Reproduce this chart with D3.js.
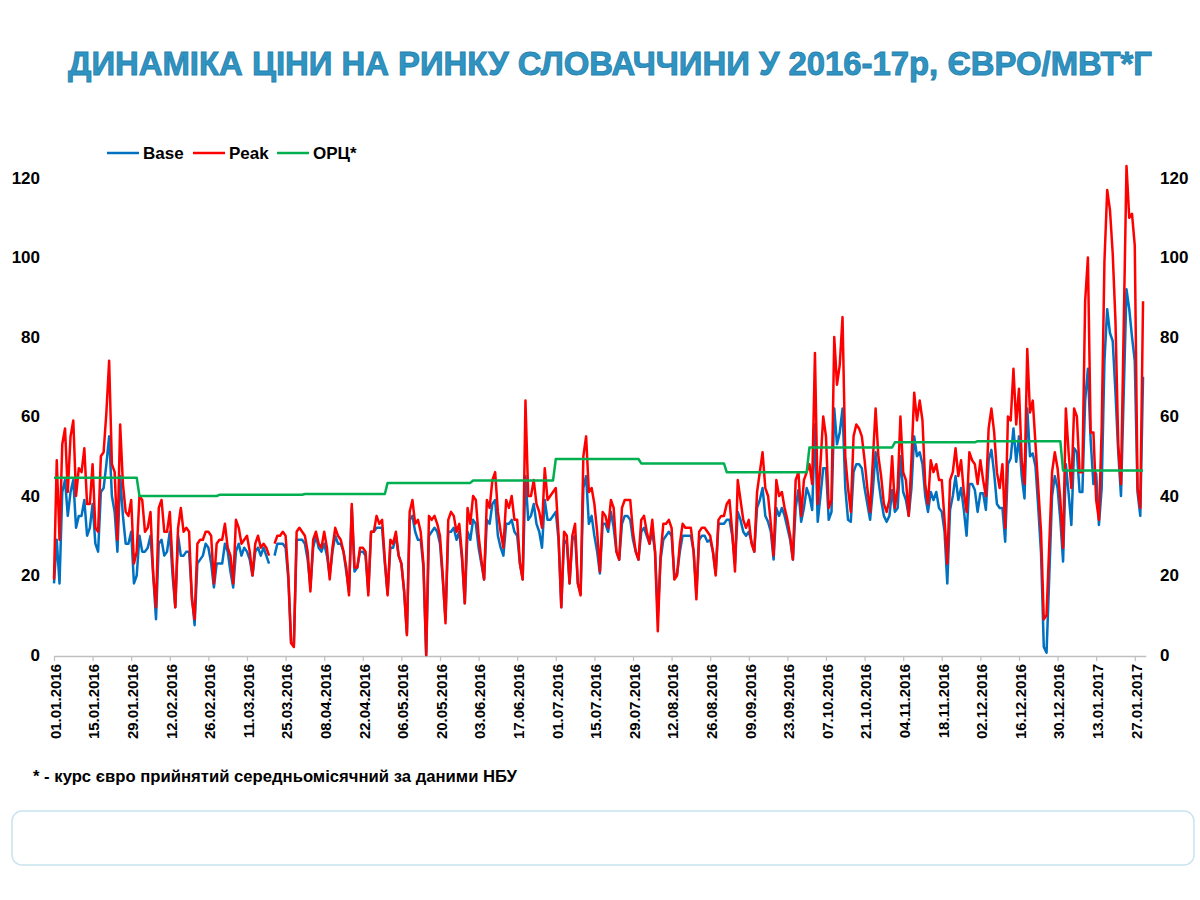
<!DOCTYPE html>
<html>
<head>
<meta charset="utf-8">
<script src="https://cdn.jsdelivr.net/npm/d3@7/dist/d3.min.js"></script>
<style>
body { margin: 0; background: #fff; }
svg text { font-family: "Liberation Sans", Arial, sans-serif; }
</style>
</head>
<body>
<div id="chart"></div>
<script>
//Width and height
var w = 1200;
var h = 900;

//Daily series start on this date, one value per day
var startDate = "01.01.2016";
var endDate = "31.01.2017";

//Date axis labels (every 14 days)
var tickLabels = ["01.01.2016","15.01.2016","29.01.2016","12.02.2016","26.02.2016","11.03.2016",
  "25.03.2016","08.04.2016","22.04.2016","06.05.2016","20.05.2016","03.06.2016","17.06.2016",
  "01.07.2016","15.07.2016","29.07.2016","12.08.2016","26.08.2016","09.09.2016","23.09.2016",
  "07.10.2016","21.10.2016","04.11.2016","18.11.2016","02.12.2016","16.12.2016","30.12.2016",
  "13.01.2017","27.01.2017"];

var yTicks = [0, 20, 40, 60, 80, 100, 120];

//Peak, EUR/MWh per day
var peak = [
  19, 49, 29, 53, 57, 41, 55, 59, 40, 47,
  46, 52, 38, 38, 48, 32, 31, 50, 51, 61,
  74, 48, 46, 29, 58, 43, 36, 35, 39, 23,
  26, 40, 39, 31, 32, 36, 20, 12, 37, 39,
  31, 31, 36, 23, 12, 32, 37, 31, 32, 31,
  14, 9, 28, 29, 29, 31, 31, 30, 18, 28,
  29, 29, 33, 27, 25, 18, 34, 32, 28, 29,
  30, 26, 20, 28, 30, 27, 28, 27, 25, null,
  28, 30, 30, 31, 30, 20, 3, 2, 31, 32,
  31, 30, 26, 16, 29, 31, 28, 27, 31, 27,
  19, 27, 32, 30, 29, 26, 22, 15, 38, 22,
  22, 27, 27, 26, 15, 31, 31, 35, 33, 34,
  24, 15, 29, 28, 31, 25, 23, 16, 5, 36,
  39, 33, 34, 31, 23, 0, 35, 34, 35, 33,
  30, 20, 8, 34, 36, 35, 31, 33, 25, 13,
  37, 33, 40, 39, 30, 24, 19, 39, 37, 44,
  46, 36, 31, 27, 39, 37, 40, 34, 34, 23,
  19, 64, 40, 40, 44, 38, 36, 32, 47, 39,
  40, 41, 42, 30, 12, 31, 30, 18, 30, 33,
  18, 15, 50, 55, 41, 42, 38, 31, 21, 36,
  35, 32, 39, 37, 26, 24, 37, 39, 39, 39,
  31, 26, 24, 34, 35, 31, 28, 34, 26, 6,
  25, 33, 33, 34, 32, 19, 20, 28, 33, 32,
  32, 32, 26, 14, 31, 32, 32, 31, 30, 26,
  20, 34, 35, 35, 38, 39, 31, 21, 44, 39,
  34, 32, 34, 28, 26, 41, 46, 51, 42, 40,
  33, 25, 44, 40, 41, 37, 34, 30, 24, 44,
  46, 35, 44, 46, 48, 43, 76, 38, 48, 60,
  55, 37, 39, 80, 68, 73, 85, 50, 42, 36,
  55, 58, 57, 55, 49, 42, 36, 49, 62, 50,
  45, 38, 36, 39, 50, 37, 42, 60, 46, 44,
  35, 49, 66, 59, 64, 59, 43, 38, 49, 46,
  48, 44, 44, 34, 23, 44, 46, 52, 45, 49,
  41, 36, 51, 49, 48, 43, 49, 44, 40, 57,
  62, 56, 46, 42, 48, 32, 60, 59, 72, 58,
  67, 49, 43, 77, 61, 64, 53, 42, 31, 9,
  10, 28, 46, 51, 47, 39, 27, 62, 51, 42,
  62, 60, 46, 46, 89, 100, 56, 56, 39, 34,
  57, 99, 117, 112, 101, 84, 53, 43, 83, 123,
  110, 111, 103, 42, 37, 89
];

//Base, EUR/MWh per day
var base = [
  18, 29, 18, 41, 44, 35, 41, 44, 32, 35,
  35, 39, 30, 32, 38, 28, 26, 41, 42, 48,
  55, 40, 36, 26, 45, 35, 28, 28, 31, 18,
  20, 30, 26, 26, 27, 30, 20, 9, 28, 29,
  25, 26, 31, 20, 12, 30, 25, 25, 26, 26,
  15, 7.5, 23, 24, 25, 28, 27, 23, 17, 23,
  23, 23, 28, 26, 21, 17, 26, 28, 25, 27,
  26, 24, 20, 26, 27, 25, 27, 25, 23, null,
  25, 28, 28, 28, 27, 19, 3, 2.5, 29, 29,
  29, 28, 24, 17, 27, 30, 27, 26, 28, 25,
  20, 26, 30, 28, 28, 26, 21, 16, 37, 21,
  22, 26, 26, 25, 16, 31, 31, 32, 32, 32,
  23, 15.5, 27, 27, 30, 25, 23, 16, 5.5, 34,
  35, 31, 29, 29, 22, 0, 30, 31, 32, 31,
  28, 19, 9, 31, 31, 32, 29, 31, 24, 13,
  31, 29, 34, 33, 27, 23, 19, 34, 33, 38,
  39, 30, 27, 25, 33, 33, 34, 31, 30, 23,
  19, 45, 34, 35, 38, 33, 31, 27, 39, 34,
  34, 35, 36, 29, 12, 29, 28, 18, 29, 30,
  18, 15.5, 42, 45, 33, 35, 30, 26, 20.5, 33,
  33, 31, 36, 32, 26, 24, 33, 35, 35, 34,
  29, 26, 24, 31, 32, 30, 28, 31, 26, 10,
  24, 29, 30, 31, 30, 20, 20.5, 26, 30, 30,
  30, 30, 26, 15.5, 29, 30, 30, 28.5, 29, 26,
  20.5, 33, 33, 33, 34, 34, 30, 23, 36, 34,
  31, 30, 31, 28.5, 26, 37, 39, 42, 35, 33.5,
  31, 24, 37, 35, 37, 35, 32, 29, 24, 37,
  41.5, 33.5, 37, 42, 40, 36.5, 58, 33.5, 40, 47,
  47, 34, 36, 62, 53, 56, 62, 42, 34, 33.5,
  46, 48, 48, 47, 42, 38, 34, 41.5, 51, 44,
  39, 35, 33.5, 35, 41.5, 36, 37, 50, 41, 39,
  35, 42, 55, 50, 51, 48, 40, 36, 41, 39,
  41, 37, 36, 31, 18, 36.5, 40, 45, 39, 42,
  36.5, 30, 43, 43, 41.5, 36, 40.7, 40.7, 36.5, 49,
  51.6, 45.7, 38, 37, 37, 28.5, 48, 49.5, 57, 48.6,
  55, 45, 39.4, 62, 50, 50.7, 47.4, 37, 25.6, 2,
  0.6, 20, 40, 45, 42, 34, 23.5, 48, 40.7, 32.7,
  52, 51, 41, 41, 64, 72, 54, 43, 45.7, 32.7,
  42, 74, 87, 81, 79, 66, 51, 40, 66, 92,
  87, 80, 74, 41, 35, 70
];

//ОРЦ*, monthly level
var orcMonths = ["01.2016","02.2016","03.2016","04.2016","05.2016","06.2016","07.2016",
  "08.2016","09.2016","10.2016","11.2016","12.2016","01.2017"];
var orc = [44.6, 40.0, 40.3, 40.5, 43.3, 43.9, 49.3, 48.2, 46.0, 52.2, 53.5, 53.8, 46.4];

var parseDay = d3.utcParse("%d.%m.%Y");
var fmtMonth = d3.utcFormat("%m.%Y");
var day0 = parseDay(startDate);

function dayDate(i) { return d3.utcDay.offset(day0, i); }

var baseData = base.map(function(v, i) { return {date: dayDate(i), v: v}; });
var peakData = peak.map(function(v, i) { return {date: dayDate(i), v: v}; });
var orcData = peak.map(function(v, i) {
    var dt = dayDate(i);
    return {date: dt, v: orc[orcMonths.indexOf(fmtMonth(dt))]};
});

//Scales
var x = d3.scaleUtc()
    .domain([day0, parseDay(endDate)])
    .range([54, 1145.8]);

var y = d3.scaleLinear()
    .domain([0, 120])
    .range([655, 178]);

//Create SVG element
var svg = d3.select("#chart")
    .append("svg")
    .attr("width", w)
    .attr("height", h);

//Title
svg.append("text")
    .attr("x", 610)
    .attr("y", 75)
    .attr("text-anchor", "middle")
    .attr("textLength", 1084)
    .attr("lengthAdjust", "spacingAndGlyphs")
    .style("font-size", "33px")
    .style("font-weight", "bold")
    .style("fill", "#2f94c2")
    .style("stroke", "#2782ae")
    .style("stroke-width", 0.9)
    .text("ДИНАМІКА ЦІНИ НА РИНКУ СЛОВАЧЧИНИ У 2016-17р, ЄВРО/МВТ*Г");

//X axis
var tickDates = tickLabels.map(parseDay);
var xAxis = svg.append("g")
    .attr("transform", "translate(0,656)")
    .call(d3.axisBottom(x)
        .tickValues(tickDates)
        .tickSize(5)
        .tickSizeOuter(0)
        .tickFormat(d3.utcFormat("%d.%m.%Y")));

xAxis.select(".domain").attr("stroke", "#bfbfbf").attr("stroke-width", 1.5);
xAxis.selectAll(".tick line").attr("stroke", "#bfbfbf").attr("stroke-width", 1.2);
xAxis.selectAll(".tick text")
    .attr("transform", "rotate(-90)")
    .attr("x", -8)
    .attr("y", 1)
    .attr("dy", "0.35em")
    .attr("text-anchor", "end")
    .style("font-size", "15px")
    .style("font-weight", "bold")
    .style("fill", "#000");

//Y axes, both sides
function styleY(g) {
    g.select(".domain").remove();
    g.selectAll(".tick line").remove();
    g.selectAll(".tick text")
        .style("font-size", "17px")
        .style("font-weight", "bold")
        .style("fill", "#000");
}

svg.append("g")
    .attr("transform", "translate(43,0)")
    .call(d3.axisLeft(y).tickValues(yTicks).tickSize(0).tickPadding(3))
    .call(styleY);

svg.append("g")
    .attr("transform", "translate(1157,0)")
    .call(d3.axisRight(y).tickValues(yTicks).tickSize(0).tickPadding(3))
    .call(styleY);

//Lines
var line = d3.line()
    .defined(function(d) { return d.v != null; })
    .x(function(d) { return x(d.date); })
    .y(function(d) { return y(d.v); });

var series = [
    {name: "Base", color: "#0070c0", data: baseData},
    {name: "Peak", color: "#ff0000", data: peakData},
    {name: "ОРЦ*", color: "#00b050", data: orcData}
];

svg.selectAll("path.series")
    .data(series)
    .enter()
    .append("path")
    .attr("class", "series")
    .attr("d", function(d) { return line(d.data); })
    .attr("fill", "none")
    .attr("stroke", function(d) { return d.color; })
    .attr("stroke-width", 2.5)
    .attr("stroke-linejoin", "round");

//Legend
var legendX = [107, 193, 277];
var legend = svg.selectAll("g.legend")
    .data(series)
    .enter()
    .append("g")
    .attr("class", "legend")
    .attr("transform", function(d, i) { return "translate(" + legendX[i] + ",153)"; });

legend.append("line")
    .attr("x1", 0)
    .attr("x2", 32)
    .attr("stroke", function(d) { return d.color; })
    .attr("stroke-width", 2.5);

legend.append("text")
    .attr("x", 36)
    .attr("dy", "0.36em")
    .style("font-size", "17px")
    .style("font-weight", "bold")
    .text(function(d) { return d.name; });

//Footnote
svg.append("text")
    .attr("x", 33)
    .attr("y", 782)
    .attr("textLength", 484)
    .attr("lengthAdjust", "spacingAndGlyphs")
    .style("font-size", "16.5px")
    .style("font-weight", "bold")
    .text("* - курс євро прийнятий середньомісячний за даними НБУ");

//Empty rounded box at the bottom
svg.append("rect")
    .attr("x", 12)
    .attr("y", 811)
    .attr("width", 1182)
    .attr("height", 54)
    .attr("rx", 10)
    .attr("fill", "none")
    .attr("stroke", "#c9e4f0")
    .attr("stroke-width", 1.5);
</script>
</body>
</html>
